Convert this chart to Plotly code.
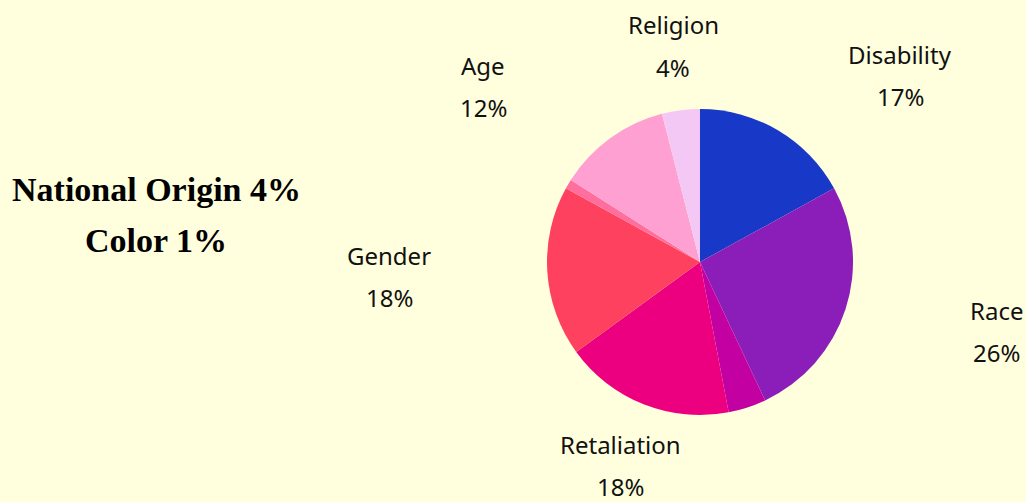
import plotly.graph_objects as go

# Data
categories = ["Disability", "Race", "National Origin", "Retaliation", "Gender", "Color", "Age", "Religion"]
values = [17, 26, 4, 18, 18, 1, 12, 4]
colors = ["#1838C8", "#8B1EB8", "#C300A2", "#EC0080", "#FF4160", "#FF6E9E", "#FFA0D2", "#F4C8F4"]

# Categories labelled beside the pie (pixel centres of label blocks, layout only)
label_pos = {
    "Religion": (673, 46),
    "Age": (483, 86),
    "Disability": (900, 75),
    "Race": (996, 331),
    "Gender": (389, 276),
    "Retaliation": (620, 465),
}
side_note = ["National Origin", "Color"]

W, H = 1026, 502
BG = "#FFFFDD"

fig = go.Figure(go.Pie(
    labels=categories,
    values=values,
    marker=dict(colors=colors, line=dict(width=0)),
    sort=False,
    direction="clockwise",
    rotation=0,
    textinfo="none",
    hoverinfo="label+percent",
    showlegend=False,
    domain=dict(x=[(700 - 153) / W, (700 + 153) / W], y=[(240 - 153) / H, (240 + 153) / H]),
))

annotations = []
total = sum(values)
for cat, val in zip(categories, values):
    if cat in label_pos:
        px, py = label_pos[cat]
        pct = f"{round(val / total * 100)}%"
        for txt, dy in ((cat, -21), (pct, 21)):
            annotations.append(dict(
                x=px / W, y=1 - (py + dy) / H, xref="paper", yref="paper",
                text=txt, showarrow=False, xanchor="center", yanchor="middle",
                font=dict(family="Noto Sans", size=24, color="#111111"),
            ))

note_lines = [f"{c} {round(values[categories.index(c)] / total * 100)}%" for c in side_note]
for i, line in enumerate(note_lines):
    annotations.append(dict(
        x=156 / W, y=1 - (189 + 51 * i) / H, xref="paper", yref="paper",
        text=f"<b>{line}</b>", showarrow=False, xanchor="center", yanchor="middle",
        font=dict(family="Liberation Serif", size=34, color="#000000"),
    ))

fig.update_layout(
    width=W, height=H,
    margin=dict(l=0, r=0, t=0, b=0),
    paper_bgcolor=BG, plot_bgcolor=BG,
    annotations=annotations,
)

fig.write_html(
    "out.html",
    config={"displayModeBar": False},
    post_script="document.body.style.margin='0';document.body.style.background='" + BG + "';",
)
